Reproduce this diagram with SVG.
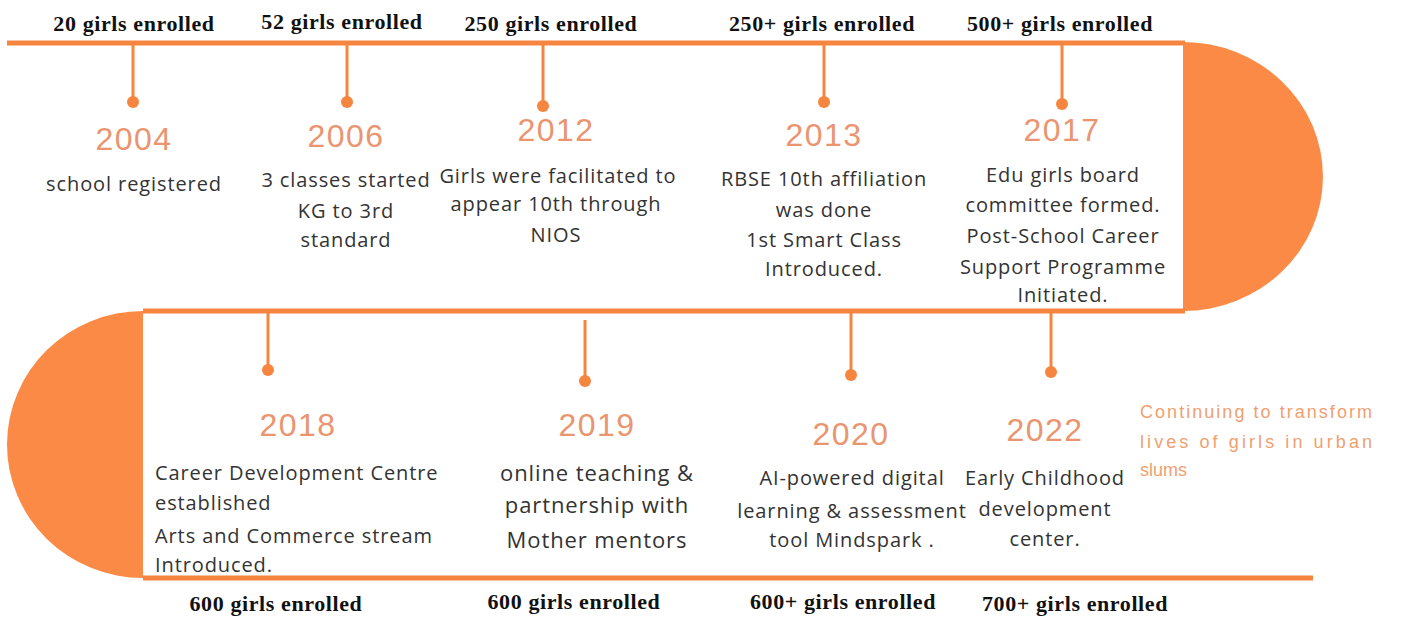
<svg xmlns="http://www.w3.org/2000/svg" width="1403" height="631" viewBox="0 0 1403 631">
<style>
.ln{stroke:#F5853F;stroke-width:5;fill:none}
.st{stroke:#F5853F;stroke-width:3;fill:none}
.dot{fill:#F5853F}
.half{fill:#FA8A45}
.yr{font-family:"Liberation Sans",Arial,sans-serif;font-size:32px;letter-spacing:1.5px;fill:#EA9570;text-anchor:middle}
.ds{font-family:"Open Sans","Liberation Sans",sans-serif;font-size:20px;letter-spacing:0.9px;fill:#333;text-anchor:middle}
.dl{font-family:"Open Sans","Liberation Sans",sans-serif;font-size:20px;letter-spacing:0.9px;fill:#333}
.en{font-family:"Liberation Serif","Times New Roman",serif;font-size:22px;letter-spacing:0.6px;font-weight:bold;fill:#111;text-anchor:middle}
.ct{font-family:"Liberation Sans",sans-serif;font-size:18px;fill:#F0A070}
</style>
<rect width="1403" height="631" fill="#fff"/>
<g id="connectors">
<path class="half" d="M1183,42 A140,134.5 0 0 1 1183,311 Z"/>
<path class="half" d="M143,311 A136,133.5 0 0 0 143,578 Z"/>
<line class="ln" x1="7" y1="43" x2="1185" y2="43"/>
<line class="ln" x1="143" y1="311" x2="1185" y2="311"/>
<line class="ln" x1="143" y1="578" x2="1313" y2="578"/>
</g>
<g id="n2004">
<line class="st" x1="133" y1="43" x2="133" y2="102"/><circle class="dot" cx="133" cy="102" r="6"/>
<text class="en" x="134" y="31">20 girls enrolled</text>
<text class="yr" x="134" y="150">2004</text>
<text class="ds" x="134" y="191">school registered</text>
</g>
<g id="n2006">
<line class="st" x1="347" y1="43" x2="347" y2="102"/><circle class="dot" cx="347" cy="102" r="6"/>
<text class="en" x="342" y="29">52 girls enrolled</text>
<text class="yr" x="346" y="147">2006</text>
<text class="ds" x="346" y="187">3 classes started</text>
<text class="ds" x="346" y="218">KG to 3rd</text>
<text class="ds" x="346" y="247">standard</text>
</g>
<g id="n2012">
<line class="st" x1="543" y1="43" x2="543" y2="106"/><circle class="dot" cx="543" cy="106" r="6"/>
<text class="en" x="551" y="31">250 girls enrolled</text>
<text class="yr" x="556" y="141">2012</text>
<text class="ds" x="558" y="183">Girls were facilitated to</text>
<text class="ds" x="556" y="211">appear 10th through</text>
<text class="ds" x="556" y="242">NIOS</text>
</g>
<g id="n2013">
<line class="st" x1="824" y1="43" x2="824" y2="102"/><circle class="dot" cx="824" cy="102" r="6"/>
<text class="en" x="822" y="31">250+ girls enrolled</text>
<text class="yr" x="824" y="146">2013</text>
<text class="ds" x="824" y="186">RBSE 10th affiliation</text>
<text class="ds" x="824" y="217">was done</text>
<text class="ds" x="824" y="247">1st Smart Class</text>
<text class="ds" x="824" y="276">Introduced.</text>
</g>
<g id="n2017">
<line class="st" x1="1062" y1="43" x2="1062" y2="104"/><circle class="dot" cx="1062" cy="104" r="6"/>
<text class="en" x="1060" y="31">500+ girls enrolled</text>
<text class="yr" x="1062" y="141">2017</text>
<text class="ds" x="1063" y="182">Edu girls board</text>
<text class="ds" x="1063" y="212">committee formed.</text>
<text class="ds" x="1063" y="243">Post-School Career</text>
<text class="ds" x="1063" y="274">Support Programme</text>
<text class="ds" x="1063" y="302">Initiated.</text>
</g>
<g id="n2018">
<line class="st" x1="268" y1="311" x2="268" y2="370"/><circle class="dot" cx="268" cy="370" r="6"/>
<text class="yr" x="298" y="436">2018</text>
<text class="dl" x="155" y="480">Career Development Centre</text>
<text class="dl" x="155" y="510">established</text>
<text class="dl" x="155" y="543">Arts and Commerce stream</text>
<text class="dl" x="155" y="572">Introduced.</text>
<text class="en" x="276" y="611">600 girls enrolled</text>
</g>
<g id="n2019">
<line class="st" x1="585" y1="320" x2="585" y2="381"/><circle class="dot" cx="585" cy="381" r="6"/>
<text class="yr" x="597" y="436">2019</text>
<text class="ds" x="597" y="481" style="font-size:22px">online teaching &amp;</text>
<text class="ds" x="597" y="513" style="font-size:22px">partnership with</text>
<text class="ds" x="597" y="548" style="font-size:22px">Mother mentors</text>
<text class="en" x="574" y="609">600 girls enrolled</text>
</g>
<g id="n2020">
<line class="st" x1="851" y1="311" x2="851" y2="375"/><circle class="dot" cx="851" cy="375" r="6"/>
<text class="yr" x="851" y="445">2020</text>
<text class="ds" x="852" y="485">AI-powered digital</text>
<text class="ds" x="852" y="518">learning &amp; assessment</text>
<text class="ds" x="852" y="547">tool Mindspark .</text>
<text class="en" x="843" y="609">600+ girls enrolled</text>
</g>
<g id="n2022">
<line class="st" x1="1051" y1="311" x2="1051" y2="372"/><circle class="dot" cx="1051" cy="372" r="6"/>
<text class="yr" x="1045" y="441">2022</text>
<text class="ds" x="1045" y="485">Early Childhood</text>
<text class="ds" x="1045" y="516">development</text>
<text class="ds" x="1045" y="546">center.</text>
<text class="en" x="1075" y="611">700+ girls enrolled</text>
</g>
<g id="note">
<text class="ct" x="1140" y="418" textLength="232" lengthAdjust="spacing">Continuing to transform</text>
<text class="ct" x="1140" y="448" textLength="232" lengthAdjust="spacing">lives of girls in urban</text>
<text class="ct" x="1140" y="476">slums</text>
</g>
</svg>
